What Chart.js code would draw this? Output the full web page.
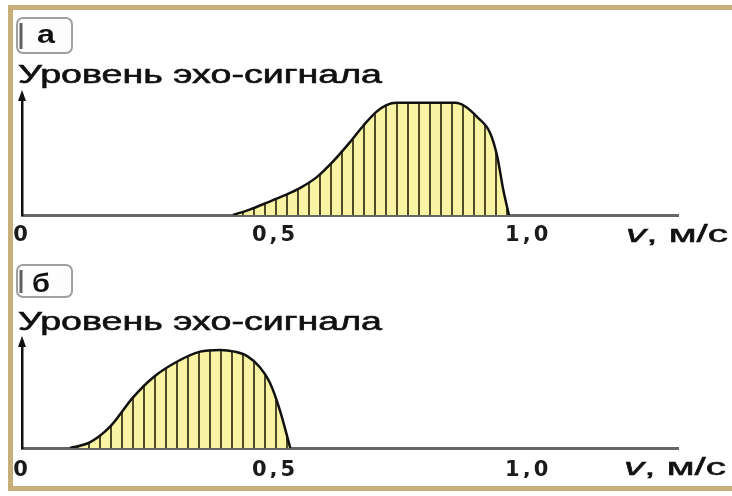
<!DOCTYPE html>
<html lang="ru">
<head>
<meta charset="UTF-8">
<title>Уровень эхо-сигнала</title>
<style>
    html, body { margin: 0; padding: 0; background: #fff; }
    body { width: 732px; height: 496px; position: relative; overflow: hidden; }
    .frame {
        position: absolute; left: 8px; top: 5px;
        width: 760px; height: 476px;
        border: 5px solid #c8ae78; border-right: none;
    }
    .panel { position: absolute; left: 0; width: 732px; }
    #panelA { top: 0; height: 252px; }
    #panelB { top: 252px; height: 244px; }
</style>
<script src="https://cdn.jsdelivr.net/npm/chart.js"></script>
</head>
<body>
<div class="frame"></div>
<div class="panel" id="panelA"><canvas id="chartA"></canvas></div>
<div class="panel" id="panelB"><canvas id="chartB"></canvas></div>

<script>
// echo level vs speed, panel "а"
const speedA = [0.417, 0.451, 0.484, 0.516, 0.549, 0.583, 0.615, 0.648, 0.675, 0.700, 0.720, 0.740, 0.856, 0.875, 0.899, 0.925, 0.939, 0.951, 0.962];
const levelA = [0, 0.05, 0.11, 0.17, 0.24, 0.34, 0.48, 0.65, 0.80, 0.92, 0.98, 1.0, 1.0, 0.97, 0.875, 0.73, 0.52, 0.22, 0];

// panel "б"
const speedB = [0.095, 0.134, 0.174, 0.219, 0.259, 0.306, 0.352, 0.391, 0.420, 0.445, 0.470, 0.490, 0.510, 0.530];
const levelB = [0, 0.05, 0.19, 0.45, 0.63, 0.77, 0.86, 0.875, 0.86, 0.82, 0.72, 0.58, 0.33, 0];

const xTickValues = [0, 0.5, 1.0];
const xTickLabels = ['0', '0,5', '1,0'];
const yTitle = 'Уровень эхо-сигнала';
const unitLabel = ['v', ', м/с'];

// yellow fill with vertical hatching
function stripes() {
    const c = document.createElement('canvas');
    c.width = 11; c.height = 4;
    const g = c.getContext('2d');
    g.fillStyle = '#f8f4a4';
    g.fillRect(0, 0, 11, 4);
    g.fillStyle = '#4f4a2a';
    g.fillRect(0, 0, 2, 4);
    return g.createPattern(c, 'repeat');
}

function drawStretched(ctx, text, font, x, base, width, bold) {
    ctx.font = font;
    const w = ctx.measureText(text).width;
    ctx.save();
    ctx.translate(x, base);
    ctx.scale(width / w, 1);
    ctx.fillText(text, 0, 0);
    if (bold) {
        ctx.lineWidth = bold;
        ctx.strokeStyle = ctx.fillStyle;
        ctx.strokeText(text, 0, 0);
    }
    ctx.restore();
}

const decor = {
    id: 'decor',
    beforeDraw(chart) { chart.ctx.letterSpacing = '3px'; },
    afterDraw(chart, args, o) {
        const ctx = chart.ctx, ca = chart.chartArea;
        ctx.save();
        ctx.letterSpacing = '0px';
        ctx.fillStyle = '#111';
        ctx.textAlign = 'left';
        ctx.textBaseline = 'alphabetic';

        // arrow head on the y axis
        const ax = ca.left;
        ctx.beginPath();
        ctx.moveTo(ax, ca.top - 5);
        ctx.lineTo(ax - 4, ca.top + 6);
        ctx.lineTo(ax + 4, ca.top + 6);
        ctx.closePath();
        ctx.fill();

        // letter box
        const [bx, by, bw, bh] = o.box;
        ctx.beginPath();
        ctx.roundRect(bx, by, bw, bh, 6);
        ctx.fillStyle = '#fdfdfd';
        ctx.fill();
        ctx.lineWidth = 2;
        ctx.strokeStyle = '#a0a0a0';
        ctx.stroke();
        ctx.beginPath();
        ctx.moveTo(bx + 4, by + 5);
        ctx.lineTo(bx + 4, by + bh - 4);
        ctx.lineWidth = 3;
        ctx.strokeStyle = '#606060';
        ctx.stroke();
        ctx.fillStyle = '#111';
        drawStretched(ctx, o.letter, 'bold 26px "Liberation Sans"', o.letterX, o.letterBase, o.letterW);

        // axis title
        drawStretched(ctx, yTitle, '26px "Liberation Sans"', 18, o.titleBase, 364, 0.6);

        // unit label at the right end of the x axis
        ctx.font = 'italic 23px "Liberation Sans"';
        const wv = ctx.measureText(unitLabel[0]).width;
        ctx.font = '23px "Liberation Sans"';
        const wr = ctx.measureText(unitLabel[1]).width;
        const s = 102 / (wv + wr);
        ctx.save();
        ctx.translate(o.unitX, o.unitBase);
        ctx.scale(s, 1);
        ctx.lineWidth = 0.5;
        ctx.strokeStyle = '#111';
        ctx.font = 'italic 23px "Liberation Sans"';
        ctx.fillText(unitLabel[0], 0, 0);
        ctx.strokeText(unitLabel[0], 0, 0);
        ctx.font = '23px "Liberation Sans"';
        ctx.fillText(unitLabel[1], wv, 0);
        ctx.strokeText(unitLabel[1], wv, 0);
        ctx.restore();
        ctx.restore();
    }
};

function makeChart(id, xs, ys, yMax, pad, deco) {
    return new Chart(document.getElementById(id), {
        type: 'line',
        data: {
            datasets: [{
                data: xs.map((x, i) => ({ x: x, y: ys[i] })),
                borderColor: '#111',
                borderWidth: 2.5,
                backgroundColor: stripes(),
                fill: 'origin',
                pointRadius: 0,
                cubicInterpolationMode: 'monotone'
            }]
        },
        options: {
            responsive: true,
            maintainAspectRatio: false,
            animation: false,
            layout: { padding: pad },
            plugins: {
                legend: { display: false },
                tooltip: { enabled: false },
                decor: deco
            },
            scales: {
                x: {
                    type: 'linear',
                    min: 0,
                    max: 1.296,
                    z: 1,
                    grid: { display: false, drawTicks: false },
                    border: { display: true, color: '#666', width: 3 },
                    afterBuildTicks: s => { s.ticks = xTickValues.map(v => ({ value: v })); },
                    afterFit: s => { s.height = 30; },
                    ticks: {
                        padding: deco.tickPad,
                        color: '#1b1b1b',
                        font: { family: 'DejaVu Sans', size: 21, weight: 'bold' },
                        callback: (v, i) => xTickLabels[i]
                    }
                },
                y: {
                    min: 0,
                    max: yMax,
                    z: 1,
                    grid: { display: false, drawTicks: false },
                    border: { display: true, color: '#111', width: 2.5 },
                    ticks: { display: false },
                    afterFit: s => { s.width = 0; }
                }
            }
        },
        plugins: [decor]
    });
}

makeChart('chartA', speedA, levelA, 1.07,
    { left: 22, right: 54, top: 95, bottom: 7 },
    { letter: 'а', box: [17, 18, 55, 35], letterX: 37, letterBase: 43, letterW: 18,
      titleBase: 83, unitX: 626, unitBase: 242, tickPad: 8 });

makeChart('chartB', speedB, levelB, 0.955,
    { left: 22, right: 54, top: 89, bottom: 18 },
    { letter: 'б', box: [17, 13, 55, 32], letterX: 32, letterBase: 40, letterW: 18,
      titleBase: 78, unitX: 624, unitBase: 223, tickPad: 10 });
</script>
</body>
</html>
